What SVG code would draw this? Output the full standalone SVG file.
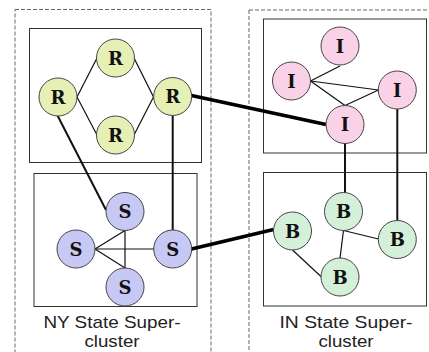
<svg xmlns="http://www.w3.org/2000/svg" width="429" height="352" viewBox="0 0 429 352">
  <style>
    .super { fill: none; stroke: #666; stroke-width: 1; stroke-dasharray: 4 2; }
    .cluster { fill: none; stroke: #333; stroke-width: 1; }
    .node circle { stroke: #444; stroke-width: 1; }
    .node text { font-family: "DejaVu Serif", "Liberation Serif", serif; font-weight: bold; font-size: 18px; text-anchor: middle; fill: #111; }
    .r circle { fill: #e6efb4; }
    .i circle { fill: #fad2e8; }
    .s circle { fill: #c8c8f4; }
    .b circle { fill: #d4f0d9; }
    .thin { stroke: #111; stroke-width: 1.2; fill: none; }
    .mid { stroke: #111; stroke-width: 2; fill: none; }
    .thick { stroke: #000; stroke-width: 3.5; fill: none; }
    .label { font-family: "Liberation Sans", Arial, sans-serif; font-size: 17px; text-anchor: middle; fill: #222; }
  </style>

  <!-- super-clusters (dashed) -->
  <rect class="super" x="15" y="9.5" width="196" height="360"/>
  <rect class="super" x="249" y="10" width="200" height="360"/>

  <!-- clusters -->
  <rect class="cluster" x="29.5" y="28.5" width="172" height="134"/>
  <rect class="cluster" x="34" y="173.5" width="163" height="133"/>
  <rect class="cluster" x="263.5" y="19" width="163" height="134"/>
  <rect class="cluster" x="263.5" y="172.5" width="163" height="133.5"/>

  <g id="connectors">
    <!-- R cluster ring -->
    <line class="thin" x1="77" y1="97" x2="97" y2="58"/>
    <line class="thin" x1="77" y1="97" x2="97" y2="135"/>
    <line class="thin" x1="134" y1="58" x2="153.5" y2="97"/>
    <line class="thin" x1="134" y1="135" x2="153.5" y2="97"/>
    <!-- I cluster -->
    <line class="thin" x1="310.5" y1="81" x2="340" y2="66"/>
    <line class="thin" x1="310.5" y1="81" x2="378.5" y2="90"/>
    <line class="thin" x1="310.5" y1="81" x2="345" y2="105.5"/>
    <line class="thin" x1="378.5" y1="90" x2="345" y2="105.5"/>
    <!-- S cluster -->
    <line class="thin" x1="95" y1="249" x2="154" y2="249"/>
    <line class="thin" x1="95" y1="249" x2="125" y2="230.5"/>
    <line class="thin" x1="95" y1="249" x2="125" y2="268"/>
    <line class="thin" x1="125" y1="230.5" x2="125" y2="268"/>
    <!-- B cluster -->
    <line class="thin" x1="343.5" y1="230.5" x2="378.5" y2="239"/>
    <line class="thin" x1="343.5" y1="230.5" x2="340" y2="258"/>
    <line class="thin" x1="292.5" y1="250" x2="321" y2="276.5"/>
    <!-- links between clusters -->
    <line class="mid" x1="57.5" y1="115.5" x2="106" y2="210"/>
    <line class="mid" x1="172.7" y1="115.5" x2="172.7" y2="230.5"/>
    <line class="mid" x1="345" y1="143" x2="345" y2="193"/>
    <line class="mid" x1="397.3" y1="109" x2="397.3" y2="220.5"/>
    <line class="thick" x1="191.5" y1="95.5" x2="326" y2="124.5"/>
    <line class="thick" x1="191.5" y1="249" x2="273.5" y2="229.5"/>
  </g>

  <!-- R nodes -->
  <g id="r-left" class="node r"><circle cx="58" cy="97" r="19"/><text x="58" y="103.5">R</text></g>
  <g id="r-top" class="node r"><circle cx="115.5" cy="58" r="19"/><text x="115.5" y="64.5">R</text></g>
  <g id="r-bottom" class="node r"><circle cx="115.5" cy="135" r="19"/><text x="115.5" y="141.5">R</text></g>
  <g id="r-right" class="node r"><circle cx="172.7" cy="96.5" r="19"/><text x="172.7" y="103">R</text></g>

  <!-- I nodes -->
  <g id="i-top" class="node i"><circle cx="340" cy="46" r="19"/><text x="340" y="52.5">I</text></g>
  <g id="i-left" class="node i"><circle cx="291.5" cy="81" r="19"/><text x="291.5" y="87.5">I</text></g>
  <g id="i-right" class="node i"><circle cx="397.3" cy="90" r="19"/><text x="397.3" y="96.5">I</text></g>
  <g id="i-bottom" class="node i"><circle cx="345" cy="124.5" r="19"/><text x="345" y="131">I</text></g>

  <!-- S nodes -->
  <g id="s-top" class="node s"><circle cx="125" cy="211.5" r="19"/><text x="125" y="218">S</text></g>
  <g id="s-left" class="node s"><circle cx="76" cy="249" r="19"/><text x="76" y="255.5">S</text></g>
  <g id="s-right" class="node s"><circle cx="172.7" cy="249" r="19"/><text x="172.7" y="255.5">S</text></g>
  <g id="s-bottom" class="node s"><circle cx="125" cy="287" r="19"/><text x="125" y="293.5">S</text></g>

  <!-- B nodes -->
  <g id="b-left" class="node b"><circle cx="292.5" cy="231" r="19"/><text x="292.5" y="237.5">B</text></g>
  <g id="b-top" class="node b"><circle cx="343.5" cy="211.5" r="19"/><text x="343.5" y="218">B</text></g>
  <g id="b-right" class="node b"><circle cx="397.3" cy="239.5" r="19"/><text x="397.3" y="246">B</text></g>
  <g id="b-bottom" class="node b"><circle cx="340" cy="277" r="19"/><text x="340" y="283.5">B</text></g>

  <!-- super-cluster captions -->
  <text class="label" x="112" y="328" textLength="137" lengthAdjust="spacingAndGlyphs">NY State Super-</text>
  <text class="label" x="112" y="347" textLength="55" lengthAdjust="spacingAndGlyphs">cluster</text>
  <text class="label" x="346" y="328" textLength="133" lengthAdjust="spacingAndGlyphs">IN State Super-</text>
  <text class="label" x="346" y="347" textLength="55" lengthAdjust="spacingAndGlyphs">cluster</text>
</svg>
